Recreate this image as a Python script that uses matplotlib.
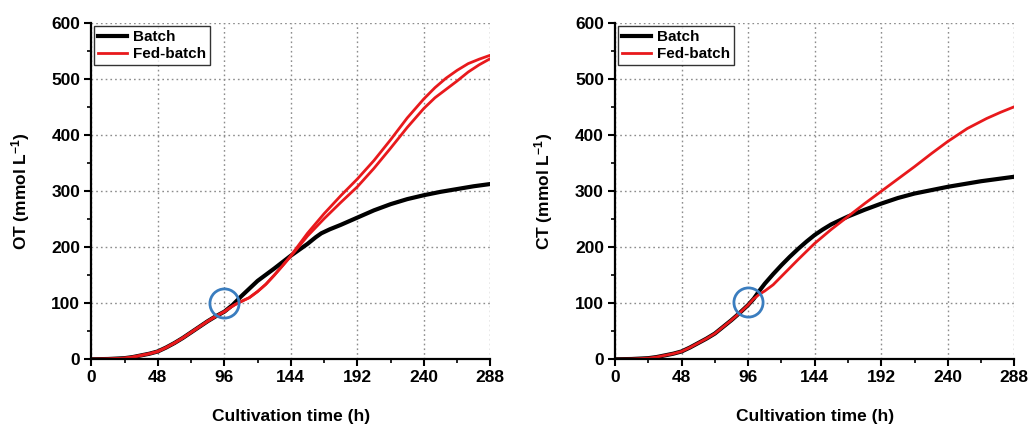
import matplotlib
matplotlib.use("Agg")
import matplotlib.pyplot as plt
from matplotlib.ticker import MultipleLocator

plt.rcParams['font.family'] = ['Liberation Sans', 'DejaVu Sans']
plt.rcParams['font.weight'] = 'bold'
plt.rcParams['mathtext.fontset'] = 'custom'
plt.rcParams['mathtext.rm'] = 'Liberation Sans:bold'
plt.rcParams['mathtext.bf'] = 'Liberation Sans:bold'
plt.rcParams['mathtext.it'] = 'Liberation Sans:bold'

# ---------------- data ----------------
xticks = [0, 48, 96, 144, 192, 240, 288]
yticks = [0, 100, 200, 300, 400, 500, 600]

# OT panel
t_ot_batch = [0, 12, 24, 30, 36, 42, 48, 54, 60, 66, 72, 78, 84, 90, 96, 102, 108,
              114, 120, 132, 144, 156, 162, 166, 172, 180, 192, 204, 216, 228, 240,
              252, 264, 276, 288]
ot_batch = [0, 0.5, 2, 4, 7, 10, 14, 21, 29, 38, 48, 58, 68, 77, 85, 97, 112,
            126, 140, 162, 185, 206, 218, 225, 232, 240, 253, 266, 277, 286, 293,
            299, 304, 309, 313]

t_ot_fed = [0, 12, 24, 30, 36, 42, 48, 54, 60, 66, 72, 78, 84, 90, 96, 100, 104,
            108, 114, 120, 126, 132, 138, 144, 150, 156, 168, 180, 192, 204, 216,
            228, 240, 248, 256, 264, 272, 280, 288]
ot_fed_1 = [0, 0.5, 2, 4, 7, 10, 14, 21, 29, 38, 48, 58, 68, 77, 85, 92, 98,
            103, 110, 121, 134, 150, 167, 185, 205, 225, 260, 292, 322, 355, 392,
            431, 465, 485, 502, 516, 528, 536, 543]
ot_fed_2 = [0, 0.5, 2, 4, 7, 10, 14, 21, 29, 38, 48, 58, 68, 77, 85, 92, 98,
            103, 110, 121, 134, 150, 167, 184, 202, 220, 251, 280, 308, 341, 377,
            414, 448, 467, 482, 497, 513, 526, 537]

# CT panel
t_ct_batch = [0, 12, 24, 30, 36, 42, 48, 54, 60, 66, 72, 78, 84, 90, 96, 100, 104,
              108, 114, 120, 126, 132, 138, 144, 150, 156, 162, 168, 180, 192, 204,
              216, 228, 240, 252, 264, 276, 288]
ct_batch = [0, 0.5, 2, 4, 7, 10, 14, 21, 29, 37, 46, 58, 70, 83, 97, 108, 122,
            135, 152, 168, 183, 197, 210, 222, 232, 241, 248, 255, 267, 278, 288,
            296, 302, 308, 313, 318, 322, 326]

t_ct_fed = [0, 12, 24, 30, 36, 42, 48, 54, 60, 66, 72, 78, 84, 90, 96, 100, 104,
            108, 114, 120, 132, 144, 156, 168, 180, 192, 204, 216, 228, 240, 254,
            268, 278, 288]
ct_fed = [0, 0.5, 2, 4, 7, 10, 14, 21, 29, 37, 46, 58, 70, 83, 97, 108, 116,
          122, 133, 148, 178, 207, 232, 255, 278, 300, 322, 344, 367, 389, 412,
          430, 441, 451]

circle_x = [96, 96]
circle_y = [100, 103]

ylabels = ['OT (mmol L$^{-1}$)', 'CT (mmol L$^{-1}$)']
xlabel = 'Cultivation time (h)'
legend_labels = ['Batch', 'Fed-batch']

# ---------------- figure ----------------
fig = plt.figure(figsize=(10.28, 4.26), dpi=100)
ax1 = fig.add_axes([0.0888, 0.1566, 0.3882, 0.7887])
ax2 = fig.add_axes([0.5983, 0.1566, 0.3884, 0.7887])

blue = '#3a7dbf'
red = '#e8191c'

def style(ax, ylabel):
    ax.set_xlim(0, 288)
    ax.set_ylim(0, 600)
    ax.set_xticks(xticks)
    ax.set_yticks(yticks)
    ax.xaxis.set_minor_locator(MultipleLocator(24))
    ax.yaxis.set_minor_locator(MultipleLocator(50))
    ax.spines['top'].set_visible(False)
    ax.spines['right'].set_visible(False)
    ax.spines['left'].set_linewidth(1.6)
    ax.spines['bottom'].set_linewidth(1.6)
    ax.tick_params(which='major', direction='out', length=5, width=1.5,
                   labelsize=12.5, pad=3)
    ax.tick_params(which='minor', direction='out', length=3, width=1.2)
    for lab in ax.get_xticklabels() + ax.get_yticklabels():
        lab.set_fontweight('bold')
    ax.grid(True, which='major', linestyle=(0, (1.2, 2.2)), color='#8c8c8c',
            linewidth=1.0)
    ax.set_axisbelow(True)
    ax.set_xlabel(xlabel, fontsize=12.5, fontweight='bold', labelpad=17)
    ax.set_ylabel(ylabel, fontsize=12.5, fontweight='bold', labelpad=14)

style(ax1, ylabels[0])
style(ax2, ylabels[1])

# left panel
ax1.plot(t_ot_batch, ot_batch, color='black', lw=3.0, label=legend_labels[0],
         solid_joinstyle='round')
ax1.plot(t_ot_fed, ot_fed_1, color=red, lw=2.0, label=legend_labels[1])
ax1.plot(t_ot_fed, ot_fed_2, color=red, lw=2.0)
ax1.plot([circle_x[0]], [circle_y[0]], marker='o', ms=21, mfc='none', mec=blue,
         mew=2.0, clip_on=False)

# right panel
ax2.plot(t_ct_batch, ct_batch, color='black', lw=3.0, label=legend_labels[0],
         solid_joinstyle='round')
ax2.plot(t_ct_fed, ct_fed, color=red, lw=2.0, label=legend_labels[1])
ax2.plot([circle_x[1]], [circle_y[1]], marker='o', ms=21, mfc='none', mec=blue,
         mew=2.0, clip_on=False)

for ax in (ax1, ax2):
    leg = ax.legend(loc='upper left', frameon=True, fancybox=False,
                    borderaxespad=0.2, handlelength=1.9, handletextpad=0.4,
                    borderpad=0.25, labelspacing=0.2,
                    prop={'weight': 'bold', 'size': 11})
    leg.get_frame().set_edgecolor('black')
    leg.get_frame().set_linewidth(1.0)

fig.savefig('out.png', dpi=100)
